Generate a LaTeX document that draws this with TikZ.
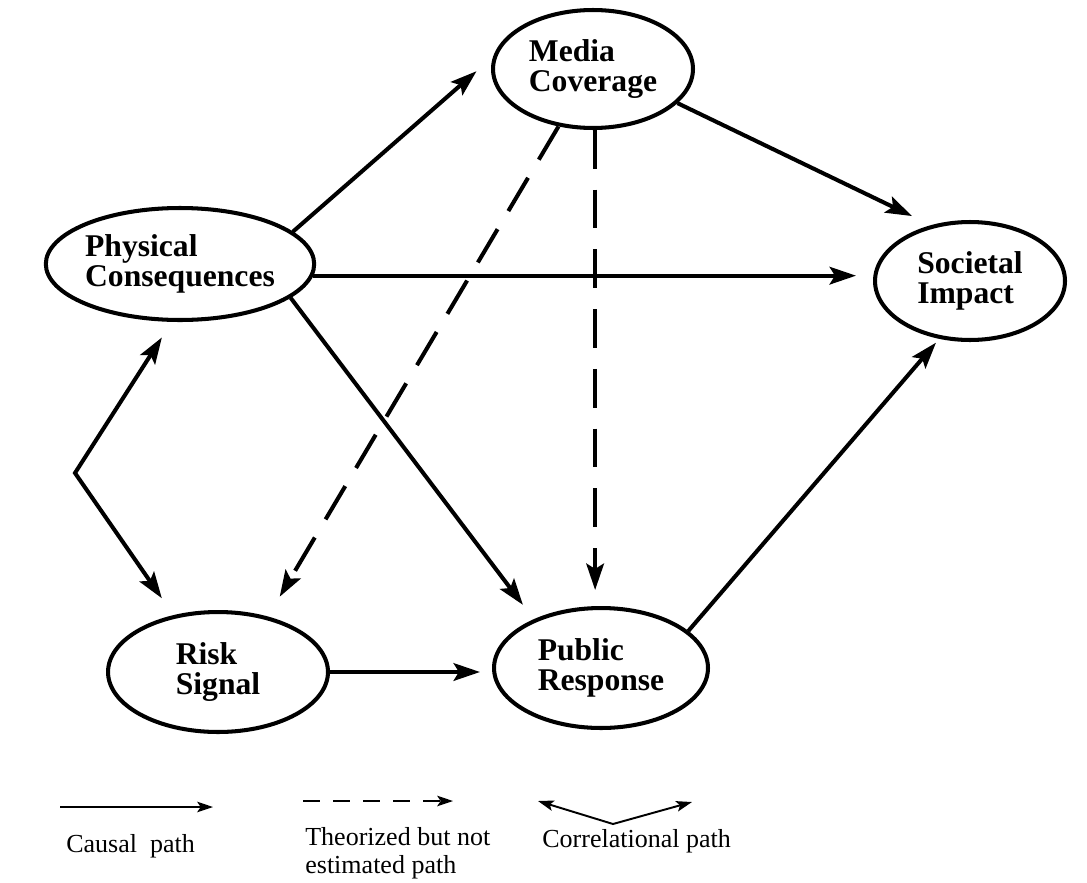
\documentclass[tikz,border=0pt]{standalone}
\usepackage{fontspec}
\setmainfont{Liberation Serif}
\usetikzlibrary{arrows.meta,shapes.geometric}
\tikzset{
  bigtip/.tip={Stealth[length=15pt,width=10pt,inset=3pt]},
  smalltip/.tip={Stealth[length=9pt,width=6pt,inset=2pt]}
}

\begin{document}
\begin{tikzpicture}[x=0.02cm, y=-0.02cm,
    blob/.style={ellipse, draw=black, line width=2.3pt, inner sep=0pt, align=left, font=\bfseries\fontsize{18}{17}\selectfont},
    arr/.style={-bigtip, line width=2.3pt},
    theo/.style={arr, dash pattern=on 22pt off 12pt},
    lgd/.style={-smalltip, line width=1.1pt},
    lab/.style={anchor=base west, inner sep=0pt, align=left, font=\fontsize{14.8}{15.5}\selectfont}
  ]
  \useasboundingbox (0,0) rectangle (1087,882);
  % factors
  \node[blob, minimum width=4cm, minimum height=2.36cm] (media) at (593,69) {Media\\Coverage};
  \node[blob, minimum width=5.32cm, minimum height=2.24cm] (phys) at (180,264) {Physical\\Consequences};
  \node[blob, minimum width=3.8cm, minimum height=2.36cm] (soc) at (970,281) {Societal\\Impact};
  \node[blob, minimum width=4.4cm, minimum height=2.4cm] (risk) at (218,672) {Risk\\Signal};
  \node[blob, minimum width=4.28cm, minimum height=2.4cm] (pub) at (601,668) {Public\\Response};
  \coordinate (fork) at (75,473);
  % causal paths
  \draw[arr, shorten >=0.44cm] (phys.16.5) -- (media.173.6);
  \draw[arr, shorten >=0.42cm] (media.-22.5) -- (soc.125.8);
  \draw[arr, shorten >=0.34cm] (phys.-5.75) -- (phys.-5.75 -| soc.west);
  \draw[arr, shorten >=0.36cm] (phys.-17.9) -- (pub.144.9);
  \draw[arr, shorten >=0.24cm] (risk.east) -- (risk.east -| pub.west);
  \draw[arr, shorten >=0.1cm] (pub.23.5) -- (soc.242.6);
  % theorized paths
  \draw[theo, shorten >=0.46cm] (media.239.5) -- (risk.48.4);
  \draw[theo, shorten >=0.32cm] (media.-88) -- (media.-88 |- pub.north);
  % correlation
  \draw[bigtip-bigtip, line width=2.3pt, shorten <=0.37cm, shorten >=0.41cm] (phys.262.9) -- (fork) -- (risk.128.2);
  % legend
  \coordinate (c1a) at (60,807);
  \coordinate (c1b) at (213,807);
  \coordinate (c2a) at (303,801);
  \coordinate (c2b) at (453,801);
  \coordinate (c3a) at (538,801);
  \coordinate (c3m) at (613,824);
  \coordinate (c3b) at (692,802);
  \draw[lgd] (c1a) -- (c1b);
  \draw[lgd, dash pattern=on 9.7pt off 7.4pt] (c2a) -- (c2b);
  \draw[smalltip-smalltip, line width=1.1pt] (c3a) -- (c3m) -- (c3b);
  \node[lab] (causal) at (66,852) {Causal\ \ path};
  \node[lab] (theor) at (305,873) {Theorized but not\\estimated path};
  \node[lab] (correl) at (542,847) {Correlational path};
\end{tikzpicture}
\end{document}
